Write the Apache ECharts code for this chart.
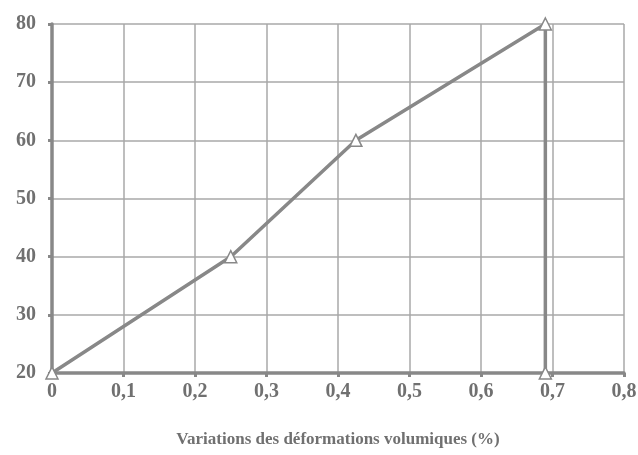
<!DOCTYPE html>
<html>
<head>
<meta charset="utf-8">
<script src="https://cdn.jsdelivr.net/npm/echarts@6/dist/echarts.min.js"></script>
<style>
  html, body { margin: 0; padding: 0; background: #fff; }
  #chart { width: 638px; height: 455px; }
</style>
</head>
<body>
<div id="chart"></div>
<script>
// volumetric strain variation (%) vs load
const strainX = [0, 0.25, 0.425, 0.69, 0.69]
const loadY = [20, 40, 60, 80, 20]
const xTicks = [0, 0.1, 0.2, 0.3, 0.4, 0.5, 0.6, 0.7, 0.8]
const yTicks = [20, 30, 40, 50, 60, 70, 80]

const chart = echarts.init(document.getElementById('chart'))

const fontFamily = '"Liberation Serif", "DejaVu Serif", serif'
const labelColor = '#707070'

const option = {
  animation: false,
  grid: { left: 52, right: 14, top: 24, bottom: 82, outerBoundsMode: 'none' },
  xAxis: {
    type: 'value',
    min: xTicks[0],
    max: xTicks[xTicks.length - 1],
    interval: 0.1,
    name: 'Variations des déformations volumiques (%)',
    nameLocation: 'middle',
    nameGap: 58,
    nameTextStyle: { color: labelColor, fontFamily, fontWeight: 'bold', fontSize: 17 },
    axisLine: { lineStyle: { color: '#888', width: 3.5 } },
    axisTick: { show: true, length: 4, lineStyle: { color: '#888', width: 3 } },
    axisLabel: {
      color: labelColor, fontFamily, fontWeight: 'bold', fontSize: 20, margin: 9,
      formatter: v => String(Math.round(v * 10) / 10).replace('.', ',')
    },
    splitLine: { show: true, lineStyle: { color: '#a8a8a8', width: 1.5 } }
  },
  yAxis: {
    type: 'value',
    min: yTicks[0],
    max: yTicks[yTicks.length - 1],
    interval: 10,
    axisLine: { show: true, lineStyle: { color: '#888', width: 3.5 } },
    axisTick: { show: true, length: 4, lineStyle: { color: '#888', width: 3 } },
    axisLabel: { color: labelColor, fontFamily, fontWeight: 'bold', fontSize: 20, margin: 16 },
    splitLine: { show: true, lineStyle: { color: '#a8a8a8', width: 1.5 } }
  },
  series: [
    {
      type: 'line',
      data: strainX.map((x, i) => [x, loadY[i]]),
      lineStyle: { color: '#888', width: 3.5 },
      symbol: 'triangle',
      symbolSize: 12,
      itemStyle: { color: '#fff', borderColor: '#888', borderWidth: 1.5 },
      z: 5
    }
  ]
}

chart.setOption(option)
</script>
</body>
</html>
